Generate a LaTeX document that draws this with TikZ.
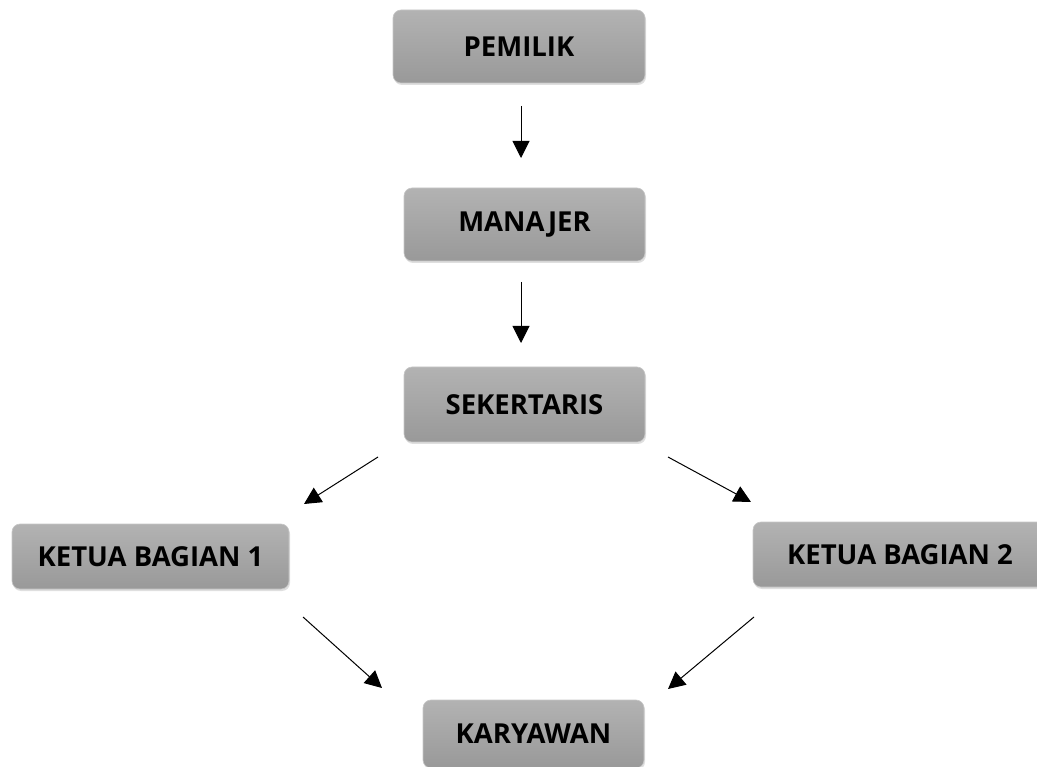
\documentclass[tikz,border=0pt]{standalone}
\usepackage{fontspec}
\setmainfont{Open Sans}
\usetikzlibrary{arrows.meta,shadows,calc}
\tikzset{
  box/.style={draw=black!22, line width=0.6pt, rounded corners=8pt,
    top color=black!30, bottom color=black!40,
    drop shadow={shadow xshift=1pt, shadow yshift=-2pt, opacity=0.25},
    font=\fontsize{27.5}{30}\selectfont\bfseries, text=black,
    inner sep=0pt, anchor=center},
  arr/.style={-{Triangle[length=17pt,width=17pt]}, line width=1pt, black},
}
\begin{document}
\begin{tikzpicture}[x=1pt,y=-1pt]
\useasboundingbox (0,0) rectangle (1037,767);
\node[box, minimum width=252pt, minimum height=73pt] (pem) at (519,46.5) {PEMILIK};
\node[box, minimum width=241pt, minimum height=73pt] (man) at (524.5,224.5) {MANAJER};
\node[box, minimum width=241pt, minimum height=75pt] (sek) at (524.5,404.5) {SEKERTARIS};
\node[box, minimum width=277pt, minimum height=65pt] (kb1) at (150.5,556.5) {KETUA BAGIAN 1};
\node[box, minimum width=294pt, minimum height=65pt] (kb2) at (900,554.5) {KETUA BAGIAN 2};
\node[box, minimum width=221pt, minimum height=68pt] (kar) at (533.5,734) {KARYAWAN};
% arrow end points
\coordinate (a1s) at (521,106);
\coordinate (a1e) at (521,158);
\coordinate (a2s) at (521,282);
\coordinate (a2e) at (521,343);
\coordinate (a3s) at (378,457);
\coordinate (a3e) at (304,504);
\coordinate (a4s) at (668,457);
\coordinate (a4e) at (751,502);
\coordinate (a5s) at (303,617);
\coordinate (a5e) at (382,688);
\coordinate (a6s) at (754,617);
\coordinate (a6e) at (668,689);
\draw[arr] (a1s) -- (a1e);
\draw[arr] (a2s) -- (a2e);
\draw[arr] (a3s) -- (a3e);
\draw[arr] (a4s) -- (a4e);
\draw[arr] (a5s) -- (a5e);
\draw[arr] (a6s) -- (a6e);
\end{tikzpicture}
\end{document}
